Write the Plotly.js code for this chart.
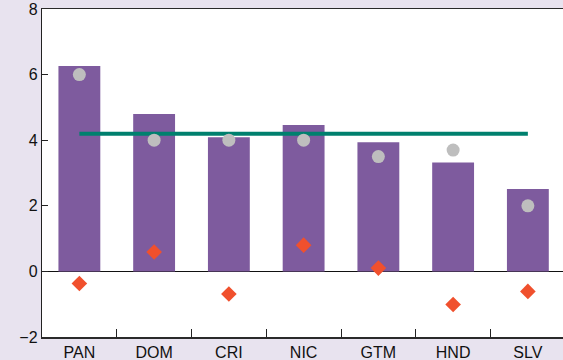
<!DOCTYPE html>
<html>
<head>
<meta charset="utf-8">
<script src="https://cdn.plot.ly/plotly-3.0.1.min.js"></script>
<style>html,body{margin:0;padding:0;background:#E8E3EF;}#chart{width:563px;height:360px;}</style>
</head>
<body>
<div id="chart"></div>
<script>
const categories = ["PAN", "DOM", "CRI", "NIC", "GTM", "HND", "SLV"];
const barValues = [6.26, 4.8, 4.09, 4.46, 3.94, 3.32, 2.51];
const dotValues = [6.0, 4.0, 4.0, 4.0, 3.5, 3.7, 2.0];
const diamondValues = [-0.37, 0.59, -0.69, 0.8, 0.1, -1.01, -0.61];
const averageValue = 4.2;
const yTicks = [-2, 0, 2, 4, 6, 8];

const traces = [
  {type: "bar", x: categories, y: barValues, marker: {color: "#7E5B9E"}, width: 0.56, hoverinfo: "none"},
  {type: "scatter", mode: "lines", x: [categories[0], categories[categories.length - 1]], y: [averageValue, averageValue],
   line: {color: "#00806E", width: 4}},
  {type: "scatter", mode: "markers", x: categories, y: dotValues, marker: {color: "#BEBEBE", size: 13, symbol: "circle"}},
  {type: "scatter", mode: "markers", x: categories, y: diamondValues, marker: {color: "#F0502D", size: 12, symbol: "diamond"}}
];

const layout = {
  width: 563, height: 360,
  margin: {l: 41.5, r: 0, t: 9, b: 23},
  paper_bgcolor: "#E8E3EF",
  plot_bgcolor: "#FFFFFF",
  showlegend: false,
  font: {family: "Liberation Sans, Arial, sans-serif", size: 16, color: "#111111"},
  xaxis: {
    range: [-0.5, 6.47], showgrid: false, zeroline: false,
    showline: true, linecolor: "#2A2A2A", linewidth: 1.5, mirror: true,
    ticks: "inside", tickson: "boundaries", ticklen: 8, tickcolor: "#222222",
    tickfont: {size: 16}
  },
  yaxis: {
    range: [-2, 8], tickvals: yTicks, showgrid: false,
    zeroline: true, zerolinecolor: "#111111", zerolinewidth: 1.2,
    showline: true, linecolor: "#222222", linewidth: 1.2,
    ticks: "inside", ticklen: 6, tickcolor: "#222222",
    tickfont: {size: 16}
  },
  bargap: 0.44
};

Plotly.newPlot("chart", traces, layout, {displayModeBar: false, staticPlot: true});
</script>
</body>
</html>
